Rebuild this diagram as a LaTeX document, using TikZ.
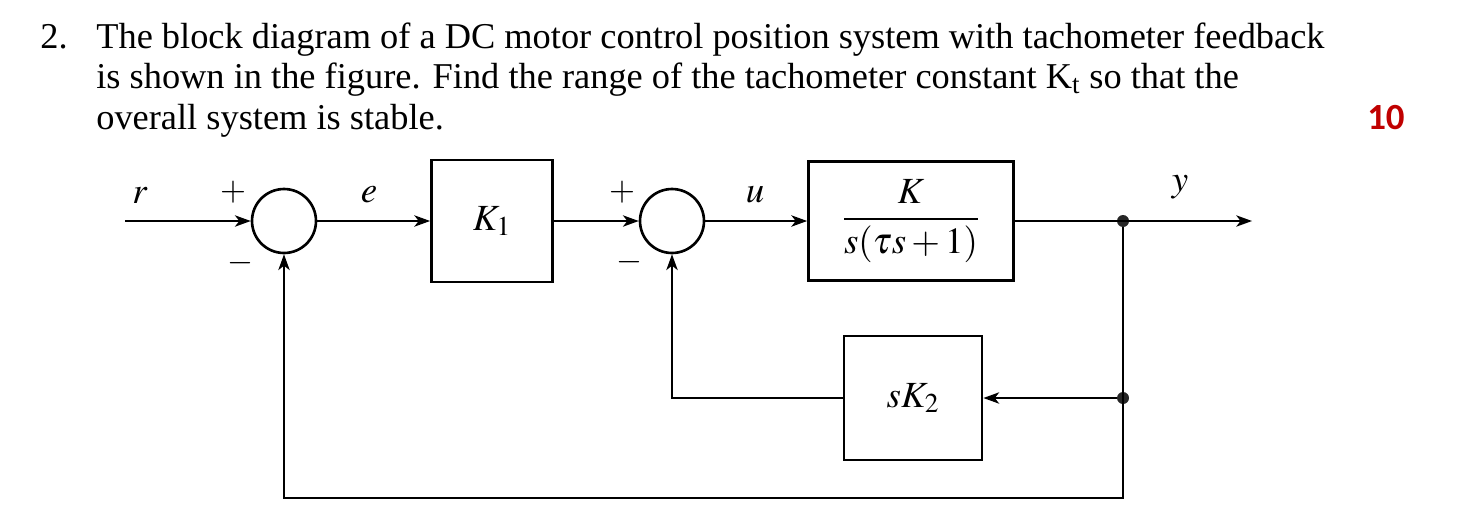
\documentclass[tikz,border=0pt]{standalone}
\usepackage{amsmath}
\usepackage{mathptmx}
\usepackage{fontspec}
\setmainfont{Liberation Serif}
\newfontfamily\numfont{Carlito}
\usetikzlibrary{arrows.meta}
\definecolor{rojo}{HTML}{C00000}
\tikzset{
  enunciado/.style={anchor=base west, inner sep=0pt, font=\fontsize{20.7}{24}\selectfont},
  bloque/.style={draw, line width=1.6pt, minimum width=2.42cm, minimum height=2.44cm, inner sep=0pt, font=\fontsize{21}{25}\selectfont},
  suma/.style={draw, circle, line width=1.5pt, minimum size=1.28cm, inner sep=0pt},
  senal/.style={inner sep=0pt, font=\fontsize{21}{25}\selectfont},
  signo/.style={inner sep=0pt, font=\fontsize{19}{23}\selectfont},
  linea/.style={line width=0.8pt},
  punto/.style={circle, fill=black!85, minimum size=0.24cm, inner sep=0pt},
  >={Stealth[length=9pt,width=6.5pt,inset=2.5pt]}
}
\begin{document}
\begin{tikzpicture}[x=0.02cm, y=-0.02cm]
    \useasboundingbox (0,0) rectangle (1470,521);
    % Enunciado
    \node[enunciado] (num) at (40,48) {2.};
    \node[enunciado] (lin1) at (96,48) {The block diagram of a DC motor control position system with tachometer feedback};
    \node[enunciado] (lin2) at (96,88) {is shown in the figure. Find the range of the tachometer constant K\textsubscript{t} so that the};
    \node[enunciado] (lin3) at (96,129) {overall system is stable.};
    \node[anchor=base east, inner sep=0pt, text=rojo, font=\numfont\bfseries\fontsize{21}{25}\selectfont] (pts) at (1405,129) {10};
    % Bloques
    \node[suma] (s1) at (284,221) {};
    \node[bloque] (k1) at (492,221) {$K_1$};
    \node[suma] (s2) at (672,221) {};
    \node[bloque, minimum width=4.1cm, minimum height=2.38cm] (planta) at (911,221) {$\dfrac{K}{s(\tau s+1)}$};
    \node[bloque, minimum width=2.76cm, minimum height=2.48cm] (tac) at (913,398) {$sK_2$};
    \coordinate (ent) at (125,221);
    \coordinate (sal) at (1252,221);
    \node[punto] (p1) at (1123,221) {};
    \node[punto] (p2) at (1123,398) {};
    \coordinate (abajo) at (1123,498);
    % Etiquetas
    \node[senal] (lr) at (140,195) {$r$};
    \node[senal] (le) at (369,195) {$e$};
    \node[senal] (lu) at (755,195) {$u$};
    \node[senal] (ly) at (1180,187) {$y$};
    \node[signo] (mas1) at (233,192) {$+$};
    \node[signo] (menos1) at (240,263) {$-$};
    \node[signo] (mas2) at (622,192) {$+$};
    \node[signo] (menos2) at (629,262) {$-$};
    % Conexiones
    \draw[linea,->] (ent) -- (s1);
    \draw[linea,->] (s1) -- (k1);
    \draw[linea,->] (k1) -- (s2);
    \draw[linea,->] (s2) -- (planta);
    \draw[linea,->] (planta) -- (sal);
    \draw[linea,->] (p1) -- (abajo) -| (s1.south);
    \draw[linea,->] (p2) -- (tac);
    \draw[linea,->] (tac) -| (s2.south);
\end{tikzpicture}
\end{document}
